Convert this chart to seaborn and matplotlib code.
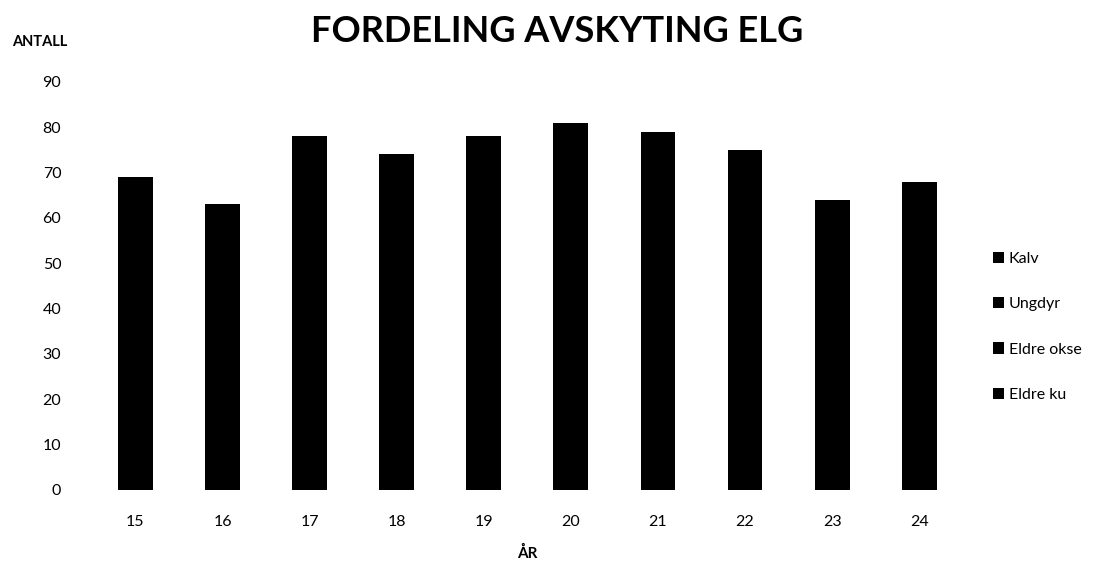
import numpy as np
import pandas as pd
import matplotlib
matplotlib.use('Agg')
import matplotlib.pyplot as plt
import seaborn as sns

# år (siste to siffer)
years = ['15', '16', '17', '18', '19', '20', '21', '22', '23', '24']

# segmenter, nederst til øverst
eldre_ku = [10, 12, 15, 13, 16, 18, 15, 18, 11, 10]
eldre_okse = [12, 14, 18, 15, 27, 14, 16, 16, 12, 13]
ungdyr = [20, 15, 26, 18, 17, 15, 20, 15, 12, 20]
kalv = [27, 22, 19, 28, 18, 34, 28, 26, 29, 25]

series = [('Eldre ku', eldre_ku), ('Eldre okse', eldre_okse),
          ('Ungdyr', ungdyr), ('Kalv', kalv)]

sns.set_theme(style='white', rc={'text.color': 'black', 'axes.labelcolor': 'black',
                                 'xtick.color': 'black', 'ytick.color': 'black'})
plt.rcParams['font.family'] = ['Lato', 'DejaVu Sans']

fig = plt.figure(figsize=(10.94, 5.61), dpi=100)
ax = fig.add_axes([0.084, 0.1266, 0.796, 0.7274])

bottom = np.zeros(len(years))
for name, vals in series:
    df = pd.DataFrame({'year': years, 'value': vals})
    sns.barplot(data=df, x='year', y='value', bottom=bottom, color='black',
                width=0.4, saturation=1, edgecolor='none', linewidth=0,
                label=name, ax=ax)
    bottom = bottom + np.array(vals)

ax.set_xlim(-0.5, 9.5)
ax.set_ylim(0, 90)
ax.set_yticks(range(0, 91, 10))
for s in ax.spines.values():
    s.set_visible(False)
ax.tick_params(axis='both', length=0, labelsize=11.5, colors='black')
ax.tick_params(axis='y', pad=22)
ax.tick_params(axis='x', pad=18)
ax.set_xlabel('ÅR', fontsize=11, fontweight='bold', labelpad=12)
ax.set_ylabel('')

fig.text(0.011, 0.925, 'ANTALL', fontsize=10.5, fontweight='bold', ha='left', va='center')
fig.suptitle('FORDELING AVSKYTING ELG', fontsize=26, fontweight='bold',
             x=0.509, y=0.943, va='center', color='black')

handles, labels = ax.get_legend_handles_labels()
leg = ax.legend(handles[::-1], labels[::-1], loc='center left', bbox_to_anchor=(1.018, 0.40),
                frameon=False, fontsize=11.5, handlelength=0.7, handleheight=0.7,
                handletextpad=0.3, labelspacing=1.95)

fig.savefig('out.png', dpi=100)
